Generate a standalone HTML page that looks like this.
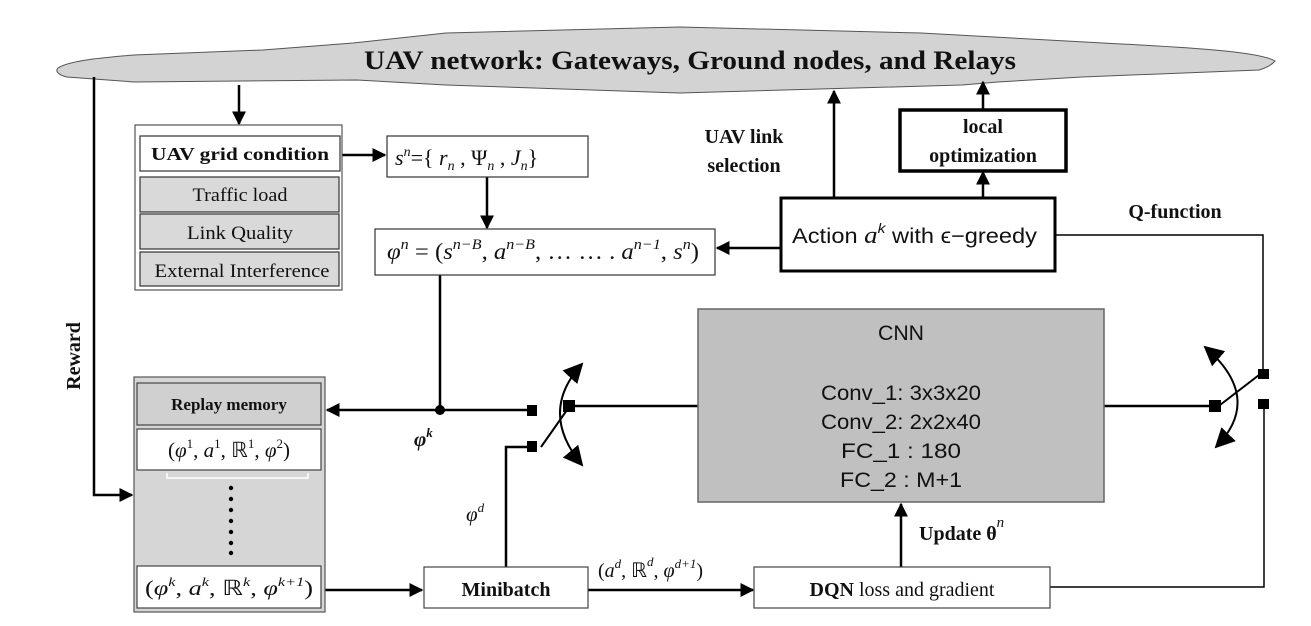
<!DOCTYPE html>
<html><head><meta charset="utf-8"><style>
html,body{margin:0;padding:0;background:#fff;}
svg{display:block;}
text{font-family:"Liberation Serif",serif;fill:#111;}
.s{font-family:"Liberation Sans",sans-serif;}
</style></head><body>
<svg width="1311" height="626" viewBox="0 0 1311 626" xmlns="http://www.w3.org/2000/svg">
<defs>
<marker id="b" viewBox="0 0 10 10" refX="9" refY="5" markerWidth="14" markerHeight="14" markerUnits="userSpaceOnUse" orient="auto"><path d="M0,0L10,5L0,10z" fill="#000"/></marker>
<marker id="c" viewBox="0 0 10 10" refX="9" refY="5" markerWidth="20" markerHeight="20" markerUnits="userSpaceOnUse" orient="auto-start-reverse"><path d="M0,0L10,5L0,10z" fill="#000"/></marker>
</defs>
<!-- cloud -->
<path d="M58,68 C70,60 110,57 134,55 L263,50 L353,43 L446,33 L680,27 L921,33 L1103,43 C1200,48 1260,52 1275,61 C1270,67 1262,69 1259,70 L1082,77 L998,82 L962,85 L680,93 L446,85 L357,80 L134,82 L67,77 C58,75 55,71 58,68 Z" fill="#d3d3d3" stroke="#555" stroke-width="1"/>
<text x="364" y="69" font-size="26" font-weight="bold" textLength="652" lengthAdjust="spacingAndGlyphs">UAV network: Gateways, Ground nodes, and Relays</text>

<g stroke="#000" stroke-width="2.5" fill="none">
<polyline points="94,77 94,495 132,495" marker-end="url(#b)"/>
<line x1="239" y1="85" x2="239" y2="124" marker-end="url(#b)"/>
<line x1="342" y1="155" x2="385" y2="155" marker-end="url(#b)"/>
<line x1="487" y1="177" x2="487" y2="228" marker-end="url(#b)"/>
<polyline points="440,275 440,410"/>
<line x1="527" y1="410" x2="327" y2="410" marker-end="url(#b)"/>
<line x1="325" y1="590" x2="422" y2="590" marker-end="url(#b)"/>
<polyline points="506,567 506,447 530,447"/>
<line x1="570" y1="406" x2="698" y2="406"/>
<line x1="588" y1="590" x2="753" y2="590" marker-end="url(#b)"/>
<line x1="1104" y1="406" x2="1212" y2="406"/>
<line x1="901" y1="567" x2="901" y2="504" marker-end="url(#b)"/>
<line x1="781" y1="248" x2="717" y2="248" marker-end="url(#b)"/>
<line x1="834" y1="198" x2="834" y2="91" marker-end="url(#b)"/>
<line x1="983" y1="198" x2="983" y2="172" marker-end="url(#b)"/>
<line x1="983" y1="110" x2="983" y2="82" marker-end="url(#b)"/>
</g>
<g stroke="#000" stroke-width="1.5" fill="none">
<polyline points="1055,235 1263,235 1263,372"/>
<polyline points="1050,587 1264,587 1264,404"/>
</g>
<circle cx="440" cy="410" r="5" fill="#000"/>
<g fill="#000">
<rect x="527" y="405" width="10" height="11"/>
<rect x="563" y="400" width="12" height="12"/>
<rect x="527" y="441" width="10" height="11"/>
<rect x="1209" y="400" width="12" height="12"/>
<rect x="1258" y="369" width="11" height="10"/>
<rect x="1258" y="399" width="11" height="10"/>
</g>
<g stroke="#000" stroke-width="2" fill="none">
<line x1="541" y1="447" x2="567" y2="410"/>
<path d="M582,364 Q538,412 582,465" marker-start="url(#c)" marker-end="url(#c)"/>
<line x1="1220" y1="405" x2="1259" y2="375"/>
<path d="M1205,347 Q1264,398 1216,447" marker-start="url(#c)" marker-end="url(#c)"/>
</g>

<rect x="135" y="125" width="207" height="165" fill="#fff" stroke="#555" stroke-width="1.2"/>
<rect x="140" y="136" width="200" height="35" fill="#fff" stroke="#333" stroke-width="1.2"/>
<rect x="140" y="177" width="199" height="35" fill="#d9d9d9" stroke="#333" stroke-width="1.2"/>
<rect x="140" y="214" width="199" height="35" fill="#d9d9d9" stroke="#333" stroke-width="1.2"/>
<rect x="140" y="252" width="199" height="34" fill="#d9d9d9" stroke="#333" stroke-width="1.2"/>
<text x="240" y="160" font-size="18" font-weight="bold" text-anchor="middle" textLength="178" lengthAdjust="spacingAndGlyphs">UAV grid condition</text>
<text x="240" y="201" font-size="19" text-anchor="middle" textLength="95" lengthAdjust="spacingAndGlyphs">Traffic load</text>
<text x="240" y="239" font-size="19" text-anchor="middle" textLength="106" lengthAdjust="spacingAndGlyphs">Link Quality</text>
<text x="242" y="277" font-size="19" text-anchor="middle" textLength="175" lengthAdjust="spacingAndGlyphs">External Interference</text>

<rect x="387" y="136" width="201" height="41" fill="#fff" stroke="#333" stroke-width="1.2"/>
<text x="395" y="165" font-size="22"><tspan font-style="italic">s</tspan><tspan font-size="14" dy="-9" font-style="italic">n</tspan><tspan dy="9">={ </tspan><tspan font-style="italic">r</tspan><tspan font-size="14" dy="5" font-style="italic">n</tspan><tspan dy="-5"> , Ψ</tspan><tspan font-size="14" dy="5" font-style="italic">n</tspan><tspan dy="-5"> , </tspan><tspan font-style="italic">J</tspan><tspan font-size="14" dy="5" font-style="italic">n</tspan><tspan dy="-5">}</tspan></text>

<rect x="375" y="229" width="340" height="46" fill="#fff" stroke="#333" stroke-width="1.2"/>
<text x="387" y="259" font-size="23" textLength="312" lengthAdjust="spacingAndGlyphs"><tspan font-style="italic">φ</tspan><tspan font-size="15" dy="-10" font-style="italic">n</tspan><tspan dy="10"> = (</tspan><tspan font-style="italic">s</tspan><tspan font-size="15" dy="-10" font-style="italic">n−B</tspan><tspan dy="10">, </tspan><tspan font-style="italic">a</tspan><tspan font-size="15" dy="-10" font-style="italic">n−B</tspan><tspan dy="10">, … … . </tspan><tspan font-style="italic">a</tspan><tspan font-size="15" dy="-10" font-style="italic">n−1</tspan><tspan dy="10">, </tspan><tspan font-style="italic">s</tspan><tspan font-size="15" dy="-10" font-style="italic">n</tspan><tspan dy="10">)</tspan></text>

<rect x="781" y="198" width="274" height="73" fill="#fff" stroke="#000" stroke-width="3"/>
<text x="792" y="243" font-size="21" class="s" textLength="245" lengthAdjust="spacingAndGlyphs">Action <tspan font-style="italic" font-family="Liberation Serif" font-size="24">a</tspan><tspan font-size="14" dy="-10" font-style="italic">k</tspan><tspan dy="10"> with ϵ−greedy</tspan></text>
<rect x="900" y="110" width="166" height="61" fill="#fff" stroke="#000" stroke-width="3.5"/>
<text x="983" y="133" font-size="20" font-weight="bold" text-anchor="middle">local</text>
<text x="983" y="162" font-size="20" font-weight="bold" text-anchor="middle">optimization</text>
<text x="744" y="143" font-size="20" font-weight="bold" text-anchor="middle">UAV link</text>
<text x="744" y="172" font-size="20" font-weight="bold" text-anchor="middle">selection</text>
<text x="1175" y="218" font-size="20" font-weight="bold" text-anchor="middle">Q-function</text>
<text transform="translate(80,356) rotate(-90)" font-size="20" font-weight="bold" text-anchor="middle">Reward</text>

<rect x="134" y="377" width="191" height="235" fill="#d6d6d6" stroke="#555" stroke-width="1.2"/>
<rect x="137" y="383" width="184" height="42" fill="#d0d0d0" stroke="#444" stroke-width="1.2"/>
<text x="229" y="410" font-size="17" font-weight="bold" text-anchor="middle">Replay memory</text>
<rect x="137" y="429" width="184" height="41" fill="#fff" stroke="#444" stroke-width="1.2"/>
<text x="229" y="457" font-size="21" text-anchor="middle">(<tspan font-style="italic">φ</tspan><tspan font-size="13" dy="-9">1</tspan><tspan dy="9">, </tspan><tspan font-style="italic">a</tspan><tspan font-size="13" dy="-9">1</tspan><tspan dy="9">, ℝ</tspan><tspan font-size="13" dy="-9">1</tspan><tspan dy="9">, </tspan><tspan font-style="italic">φ</tspan><tspan font-size="13" dy="-9">2</tspan><tspan dy="9">)</tspan></text>
<polyline points="167,473 167,478 308,478 308,473" stroke="#fff" stroke-width="1.5" fill="none"/>
<g fill="#000"><circle cx="231" cy="488" r="2.2"/><circle cx="231" cy="499" r="2.2"/><circle cx="231" cy="510" r="2.2"/><circle cx="231" cy="521" r="2.2"/><circle cx="231" cy="532" r="2.2"/><circle cx="231" cy="543" r="2.2"/><circle cx="231" cy="553" r="2.2"/></g>
<rect x="137" y="566" width="184" height="42" fill="#fff" stroke="#444" stroke-width="1.2"/>
<text x="229" y="595" font-size="21" text-anchor="middle" textLength="168" lengthAdjust="spacingAndGlyphs">(<tspan font-style="italic">φ</tspan><tspan font-size="13" dy="-9" font-style="italic">k</tspan><tspan dy="9">, </tspan><tspan font-style="italic">a</tspan><tspan font-size="13" dy="-9" font-style="italic">k</tspan><tspan dy="9">, ℝ</tspan><tspan font-size="13" dy="-9" font-style="italic">k</tspan><tspan dy="9">, </tspan><tspan font-style="italic">φ</tspan><tspan font-size="13" dy="-9" font-style="italic">k+1</tspan><tspan dy="9">)</tspan></text>

<text x="414" y="446" font-size="21" font-style="italic" font-weight="bold">φ<tspan font-size="13" dy="-9">k</tspan></text>
<text x="466" y="521" font-size="21" font-style="italic">φ<tspan font-size="13" dy="-9">d</tspan></text>

<rect x="424" y="567" width="164" height="41" fill="#fff" stroke="#444" stroke-width="1.2"/>
<text x="506" y="596" font-size="20" font-weight="bold" text-anchor="middle">Minibatch</text>
<text x="598" y="577" font-size="20">(<tspan font-style="italic">a</tspan><tspan font-size="13" dy="-9" font-style="italic">d</tspan><tspan dy="9">, ℝ</tspan><tspan font-size="13" dy="-11" font-style="italic">d</tspan><tspan dy="11">, </tspan><tspan font-style="italic">φ</tspan><tspan font-size="13" dy="-9" font-style="italic">d+1</tspan><tspan dy="9">)</tspan></text>

<rect x="698" y="309" width="406" height="193" fill="#c0c0c0" stroke="#666" stroke-width="1.5"/>
<g font-size="21" text-anchor="middle">
<text x="901" y="340" class="s" textLength="46" lengthAdjust="spacingAndGlyphs">CNN</text>
<text x="901" y="400" class="s" textLength="160" lengthAdjust="spacingAndGlyphs">Conv_1: 3x3x20</text>
<text x="901" y="429" class="s" textLength="160" lengthAdjust="spacingAndGlyphs">Conv_2: 2x2x40</text>
<text x="901" y="458" class="s" textLength="120" lengthAdjust="spacingAndGlyphs">FC_1 :   180</text>
<text x="901" y="487" class="s" textLength="122" lengthAdjust="spacingAndGlyphs">FC_2 :   M+1</text>
</g>
<text x="919" y="540" font-size="20" font-weight="bold">Update θ<tspan font-style="italic" font-weight="normal" font-size="15" dy="-13">n</tspan></text>

<rect x="754" y="567" width="296" height="41" fill="#fff" stroke="#444" stroke-width="1.2"/>
<text x="902" y="596" font-size="20" text-anchor="middle"><tspan font-weight="bold">DQN</tspan> loss and gradient</text>
</svg>
</body></html>
